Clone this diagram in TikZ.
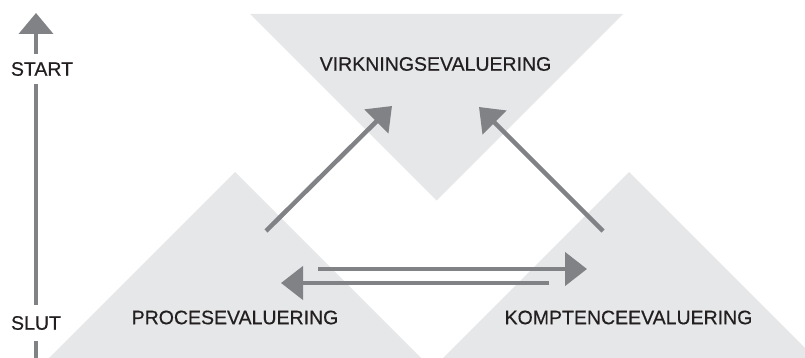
\documentclass[tikz,border=0pt]{standalone}
\usepackage{fontspec}
\setmainfont{Liberation Sans}
\usetikzlibrary{arrows.meta}

\definecolor{trigray}{HTML}{E6E7E8}
\definecolor{arrgray}{HTML}{808285}
\definecolor{txtblack}{HTML}{231F20}

\tikzset{
  evaltext/.style={text=txtblack, font=\fontsize{19.5}{23}\selectfont\addfontfeature{FakeBold=0.5}, inner sep=0pt},
  axistext/.style={evaltext, fill=white, inner xsep=0pt, inner ysep=8pt},
  flow/.style={draw=arrgray, line width=4.5pt, -{Triangle[length=22pt,width=33pt]}},
  axisflow/.style={draw=arrgray, line width=4pt, -{Triangle[length=21pt,width=34pt]}}
}

\begin{document}
\begin{tikzpicture}[x=1pt,y=-1pt]
    \useasboundingbox (0,0) rectangle (805,358);
    \clip (0,0) rectangle (805,358);

    % the three triangles
    \fill[trigray] (250,14) -- (623,14) -- (436.5,200.5) -- cycle;
    \fill[trigray] (235,172) -- (435,372) -- (35,372) -- cycle;
    \fill[trigray] (629,172) -- (829,372) -- (429,372) -- cycle;

    \node[evaltext] (virk) at (435.5,64)  {VIRKNINGSEVALUERING};
    \node[evaltext] (proc) at (235,317.5) {PROCESEVALUERING};
    \node[evaltext] (komp) at (628.5,317.5) {KOMPTENCEEVALUERING};

    % arrow ends
    \coordinate (procOut) at (266,231);
    \coordinate (virkInL) at (392,106);
    \coordinate (kompOut) at (603,231);
    \coordinate (virkInR) at (479,107);
    \coordinate (procR)   at (318,269);
    \coordinate (kompIn)  at (587,269);
    \coordinate (kompL)   at (549,283);
    \coordinate (procIn)  at (281,283);

    \draw[flow] (procOut) -- (virkInL);
    \draw[flow] (kompOut) -- (virkInR);
    \draw[flow] (procR) -- (kompIn);
    \draw[flow] (kompL) -- (procIn);

    % time axis
    \coordinate (axisBot) at (36,358);
    \coordinate (axisTop) at (36,13);
    \draw[axisflow] (axisBot) -- (axisTop);
    \node[axistext] (start) at (42,69) {START};
    \node[axistext, inner ysep=11.5pt] (slut) at (36,323) {SLUT};

\end{tikzpicture}
\end{document}
